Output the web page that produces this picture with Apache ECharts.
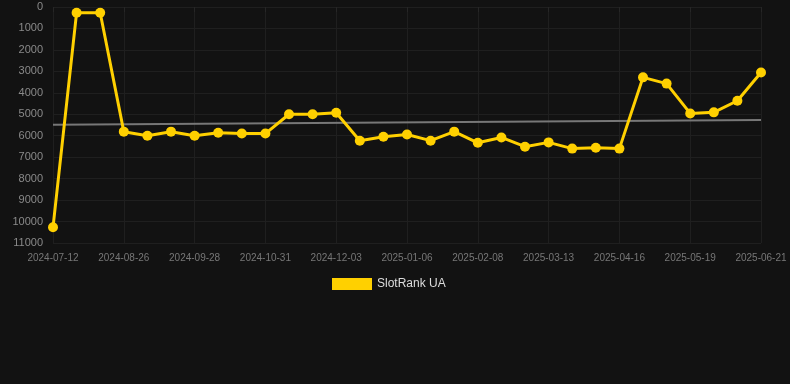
<!DOCTYPE html>
<html><head><meta charset="utf-8">
<script src="https://cdn.jsdelivr.net/npm/echarts@6/dist/echarts.min.js"></script>
<style>html,body{margin:0;padding:0;background:#121212;}#c{width:790px;height:384px;}</style>
</head><body><div id="c"></div>
<script>
const categories = ['2024-07-12','2024-07-27','2024-08-11','2024-08-26','2024-09-06','2024-09-17','2024-09-28','2024-10-09','2024-10-20','2024-10-31','2024-11-11','2024-11-22','2024-12-03','2024-12-14','2024-12-25','2025-01-06','2025-01-17','2025-01-28','2025-02-08','2025-02-19','2025-03-02','2025-03-13','2025-03-24','2025-04-04','2025-04-16','2025-04-27','2025-05-08','2025-05-19','2025-05-30','2025-06-10','2025-06-21'];
const rankValues = [10270,265,265,5810,6000,5810,6000,5860,5900,5900,5000,5000,4930,6230,6050,5940,6230,5810,6330,6080,6510,6310,6600,6560,6600,3280,3570,4960,4910,4370,3050];
const trendStart = 5490;
const trendEnd = 5270;
const trendValues = categories.map(() => null);
trendValues[0] = trendStart;
trendValues[categories.length - 1] = trendEnd;
const yTicks = [0,1000,2000,3000,4000,5000,6000,7000,8000,9000,10000,11000];

const chart = echarts.init(document.getElementById('c'));
chart.setOption({
  backgroundColor: '#121212',
  animation: false,
  grid: {left: 53, right: 29, top: 7, bottom: 141},
  legend: {
    data: ['SlotRank UA'], top: 273, left: 327,
    itemWidth: 40, itemHeight: 12, icon: 'rect',
    textStyle: {color: '#dddddd', fontSize: 12, fontFamily: 'Liberation Sans, Arial, sans-serif'}
  },
  xAxis: {
    type: 'category', data: categories, boundaryGap: false,
    axisLine: {show: false},
    axisTick: {show: true, interval: 2, length: 5, lineStyle: {color: '#262626'}},
    axisLabel: {interval: 2, color: '#777777', fontSize: 10, margin: 10, fontFamily: 'Liberation Sans, Arial, sans-serif'},
    splitLine: {show: true, interval: 2, lineStyle: {color: '#1f1f1f', width: 1}}
  },
  yAxis: {
    type: 'value', inverse: true, min: yTicks[0], max: yTicks[yTicks.length-1], interval: 1000,
    axisLine: {show: false}, axisTick: {show: false},
    axisLabel: {color: '#8a8a8a', fontSize: 11, margin: 10, fontFamily: 'Liberation Sans, Arial, sans-serif',
      formatter: v => String(v)},
    splitLine: {lineStyle: {color: '#1f1f1f', width: 1}}
  },
  series: [
    {
      name: 'SlotRank UA', type: 'line', data: rankValues,
      symbol: 'circle', symbolSize: 10,
      lineStyle: {color: '#FFD000', width: 3},
      itemStyle: {color: '#FFD000'},
      z: 3
    },
    {
      name: 'Trend', type: 'line', data: trendValues, connectNulls: true,
      symbol: 'none', lineStyle: {color: '#777777', width: 2},
      itemStyle: {color: '#777777'}, z: 2, silent: true
    }
  ]
});
</script></body></html>
